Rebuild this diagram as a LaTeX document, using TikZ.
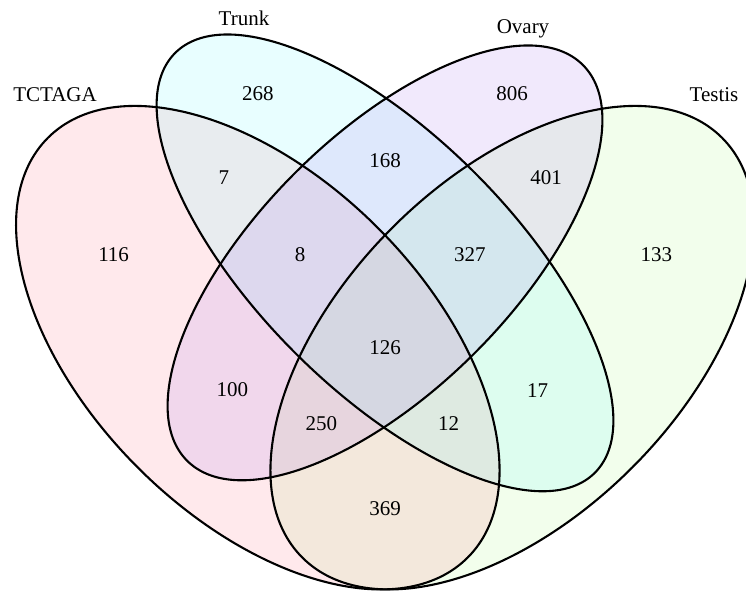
\documentclass[tikz,border=0pt]{standalone}
\usepackage{fontspec}
\setmainfont{Liberation Serif}
\definecolor{cPink}{RGB}{255,108,128}
\definecolor{cCyan}{RGB}{102,248,255}
\definecolor{cPurple}{RGB}{162,108,235}
\definecolor{cGreen}{RGB}{165,250,125}
\tikzset{
  setfill/.style={fill=#1, fill opacity=0.15, draw=none},
  setline/.style={draw=black, line width=2.1pt},
  cnt/.style={font=\fontsize{21}{24}\selectfont, inner sep=0pt},
  catlab/.style={font=\fontsize{21}{24}\selectfont, inner sep=0pt, anchor=base}
}
\begin{document}
\begin{tikzpicture}[x=1pt,y=1pt]
\useasboundingbox (0,0) rectangle (746,590);
\begin{scope}[shift={(-39pt,-156.24pt)}, x=848pt, y=848pt]
  % fills
  \fill[setfill=cGreen, rotate around={45:(0.65,0.47)}] (0.65,0.47) ellipse (0.35 and 0.20);
  \fill[setfill=cPink, rotate around={135:(0.35,0.47)}] (0.35,0.47) ellipse (0.35 and 0.20);
  \fill[setfill=cCyan, rotate around={135:(0.50,0.57)}] (0.50,0.57) ellipse (0.35 and 0.15);
  \fill[setfill=cPurple, rotate around={45:(0.50,0.57)}] (0.50,0.57) ellipse (0.33 and 0.15);
  % outlines
  \draw[setline, rotate around={135:(0.35,0.47)}] (0.35,0.47) ellipse (0.35 and 0.20);
  \draw[setline, rotate around={135:(0.50,0.57)}] (0.50,0.57) ellipse (0.35 and 0.15);
  \draw[setline, rotate around={45:(0.50,0.57)}] (0.50,0.57) ellipse (0.33 and 0.15);
  \draw[setline, rotate around={45:(0.65,0.47)}] (0.65,0.47) ellipse (0.35 and 0.20);
  % counts
  \node[cnt] (a1)  at (0.350,0.77) {268};
  \node[cnt] (a2)  at (0.500,0.69) {168};
  \node[cnt] (a3)  at (0.650,0.77) {806};
  \node[cnt] (a4)  at (0.310,0.67) {7};
  \node[cnt] (a5)  at (0.400,0.58) {8};
  \node[cnt] (a6)  at (0.500,0.47) {126};
  \node[cnt] (a7)  at (0.600,0.58) {327};
  \node[cnt] (a8)  at (0.690,0.67) {401};
  \node[cnt] (a9)  at (0.180,0.58) {116};
  \node[cnt] (a10) at (0.320,0.42) {100};
  \node[cnt] (a11) at (0.425,0.38) {250};
  \node[cnt] (a12) at (0.575,0.38) {12};
  \node[cnt] (a13) at (0.680,0.42) {17};
  \node[cnt] (a14) at (0.820,0.58) {133};
  \node[cnt] (a15) at (0.500,0.28) {369};
\end{scope}
\node[catlab] (tctaga) at (55,488) {TCTAGA};
\node[catlab] (trunk) at (244,564) {Trunk};
\node[catlab] (ovary) at (523,556) {Ovary};
\node[catlab] (testis) at (714,488) {Testis};
\end{tikzpicture}
\end{document}
